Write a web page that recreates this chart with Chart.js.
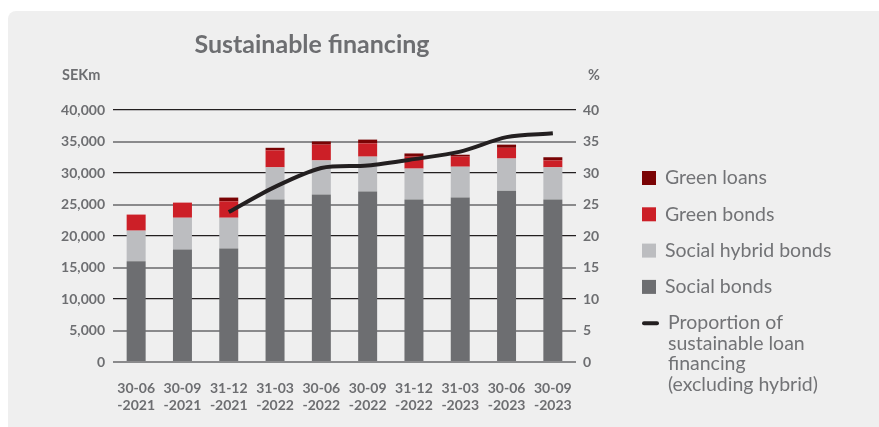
<!DOCTYPE html>
<html>
<head>
<meta charset="utf-8">
<script src="https://cdn.jsdelivr.net/npm/chart.js@4/dist/chart.umd.min.js"></script>
<style>
  html, body { margin: 0; padding: 0; background: #fff; }
  #wrap { width: 879px; height: 427px; }
</style>
</head>
<body>
<div id="wrap"><canvas id="finChart" width="879" height="427"></canvas></div>
<script>
// quarterly sustainable financing, SEKm + share in %
const quarters = [["30-06", "-2021"], ["30-09", "-2021"], ["31-12", "-2021"], ["31-03", "-2022"], ["30-06", "-2022"],
                  ["30-09", "-2022"], ["31-12", "-2022"], ["31-03", "-2023"], ["30-06", "-2023"], ["30-09", "-2023"]];
const socialBonds = [16000, 17850, 18000, 25800, 26600, 27050, 25800, 26100, 27200, 25800];
const socialHybrid = [4850, 5050, 4900, 5100, 5400, 5550, 4900, 4900, 5100, 5100];
const greenBonds = [2550, 2400, 2600, 2700, 2500, 2100, 1900, 1600, 1700, 1100];
const greenLoans = [0, 0, 600, 400, 500, 600, 500, 300, 500, 500];
const loanShare = [null, null, 23.8, 27.8, 30.8, 31.2, 32.2, 33.4, 35.7, 36.3];
const leftTicks = [0, 40000, 5000];
const rightTicks = [0, 40, 5];

const grey = "#6d6e71";
const font = "Lato, 'Open Sans', sans-serif";

// panel background + title + axis units
const backdrop = {
  id: "backdrop",
  beforeDraw(chart) {
    const ctx = chart.ctx;
    ctx.save();
    ctx.fillStyle = "#efefef";
    ctx.beginPath();
    ctx.roundRect(8, 11, 900, 430, 8);
    ctx.fill();
    ctx.fillStyle = grey;
    ctx.textBaseline = "middle";
    ctx.font = "bold 25px " + font;
    ctx.textAlign = "center";
    ctx.fillText("Sustainable financing", 312, 45);
    ctx.font = "bold 14.5px " + font;
    ctx.textAlign = "left";
    ctx.fillText("SEKm", 62, 75);
    ctx.fillText("%", 588, 75);
    ctx.restore();
  }
};

// legend on the right, bars top-down then the line
const sideLegend = {
  id: "sideLegend",
  afterDraw(chart) {
    const ctx = chart.ctx;
    const ds = chart.data.datasets;
    const items = [ds[3], ds[2], ds[1], ds[0]];
    ctx.save();
    ctx.font = "19.5px " + font;
    ctx.textBaseline = "middle";
    ctx.textAlign = "left";
    let y = 178;
    items.forEach(d => {
      ctx.fillStyle = d.backgroundColor;
      ctx.fillRect(642, y - 7, 14, 14);
      ctx.fillStyle = "#727376";
      ctx.fillText(d.label, 665, y);
      y += 36.3;
    });
    const line = ds[4];
    ctx.strokeStyle = line.borderColor;
    ctx.lineWidth = 4;
    ctx.lineCap = "round";
    ctx.beginPath();
    ctx.moveTo(644, y);
    ctx.lineTo(657, y);
    ctx.stroke();
    line.legendLines.forEach((t, i) => ctx.fillText(t, 668, y + i * 20.5));
    ctx.restore();
  }
};

new Chart("finChart", {
  type: "bar",
  data: {
    labels: quarters,
    datasets: [
      { label: "Social bonds", data: socialBonds, backgroundColor: "#6d6e71", order: 1 },
      { label: "Social hybrid bonds", data: socialHybrid, backgroundColor: "#bcbdc0", order: 1 },
      { label: "Green bonds", data: greenBonds, backgroundColor: "#cc1f27", order: 1 },
      { label: "Green loans", data: greenLoans, backgroundColor: "#7a0304", order: 1 },
      {
        type: "line",
        label: "Proportion of sustainable loan financing (excluding hybrid)",
        legendLines: ["Proportion of", "sustainable loan", "financing", "(excluding hybrid)"],
        data: loanShare,
        yAxisID: "y1",
        borderColor: "#231f20",
        borderWidth: 4,
        pointRadius: 0,
        tension: 0.3,
        order: 0
      }
    ]
  },
  options: {
    responsive: false,
    animation: false,
    layout: { padding: { top: 110, left: 0, right: 263, bottom: 12 } },
    datasets: { bar: { barPercentage: 0.41, categoryPercentage: 1 } },
    plugins: { legend: { display: false }, tooltip: { enabled: false } },
    scales: {
      x: {
        stacked: true,
        grid: { display: false },
        border: { display: false },
        ticks: { color: grey, font: { family: font, size: 14, weight: "bold" }, padding: 10, maxRotation: 0, autoSkip: false },
        afterFit(s) { s.height = 53; }
      },
      y: {
        stacked: true,
        position: "left",
        min: leftTicks[0],
        max: leftTicks[1],
        border: { display: false },
        grid: {
          drawTicks: false,
          color: c => (c.tick.value > 0 && c.tick.value % 10000 === 0) ? "#231f20" : "#8a8a8c",
          lineWidth: c => (c.tick.value > 0 && c.tick.value % 10000 === 0) ? 1.2 : 2
        },
        ticks: {
          stepSize: leftTicks[2],
          padding: 8,
          color: grey,
          font: { family: font, size: 14, weight: "bold" },
          callback: v => v.toLocaleString("en-US")
        },
        afterFit(s) { s.width = 113; }
      },
      y1: {
        position: "right",
        min: rightTicks[0],
        max: rightTicks[1],
        border: { display: false },
        grid: { display: false, drawTicks: false },
        ticks: {
          stepSize: rightTicks[2],
          padding: 7,
          color: grey,
          font: { family: font, size: 14, weight: "bold" }
        },
        afterFit(s) { s.width = 40; }
      }
    }
  },
  plugins: [backdrop, sideLegend]
});
</script>
</body>
</html>
